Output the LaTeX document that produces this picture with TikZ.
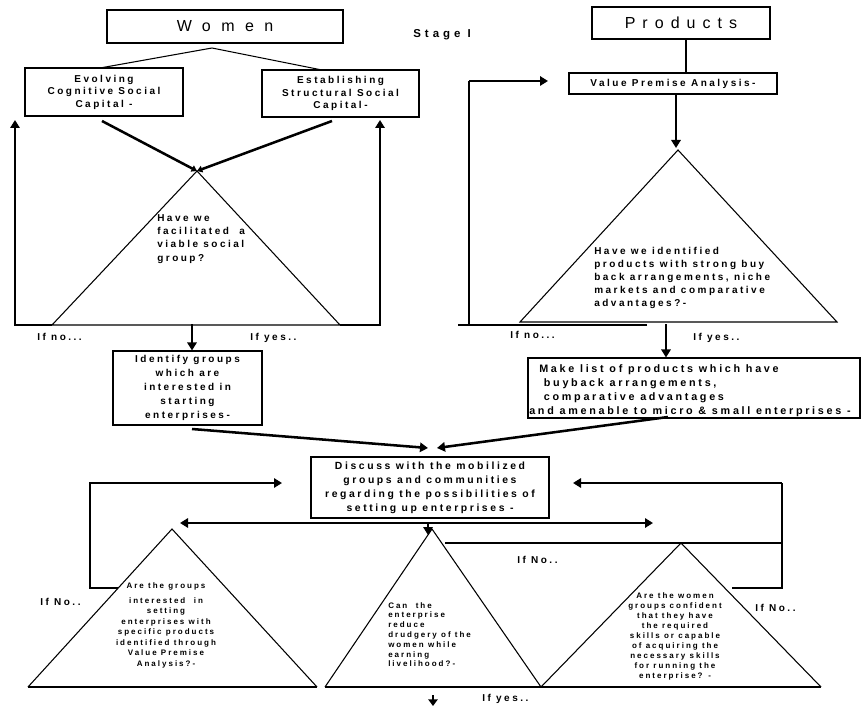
\documentclass[tikz,border=0pt]{standalone}
\usepackage{fontspec}
\setmainfont{Liberation Sans}
\newfontfamily\lsp[LetterSpace=25]{Liberation Sans}
\newfontfamily\lsps[LetterSpace=35]{Liberation Sans}
\newfontfamily\lspw[LetterSpace=65]{Liberation Sans}
\newfontfamily\lspp[LetterSpace=44]{Liberation Sans}
\usetikzlibrary{arrows.meta}
\begin{document}
\begin{tikzpicture}[x=0.75pt,y=-0.75pt,
  box/.style={draw, line width=0.8pt, inner sep=0pt, align=center},
  tx/.style={font=\lsp\bfseries\fontsize{7.5pt}{10.5pt}\selectfont, inner sep=0pt},
  sm/.style={inner sep=0pt},
  ln/.style={line width=0.8pt},
  hv/.style={line width=1.9pt},
  tip/.style={-{Triangle[length=6pt,width=7pt]}},
  tips/.style={{Triangle[length=6pt,width=7pt]}-{Triangle[length=6pt,width=7pt]}}
]
\useasboundingbox (0,0) rectangle (861,706);
\fill[white] (0,0) rectangle (861,706);

% ---------- boxes ----------
\node[box, minimum width=177pt, minimum height=24.75pt, font=\lspw\fontsize{12pt}{14pt}\selectfont] (women) at (225,26.5) {Women};
\node[box, tx, minimum width=118.5pt, minimum height=36pt, font=\lsp\bfseries\fontsize{7.5pt}{9.4pt}\selectfont] (evo) at (104,92) {Evolving\\Cognitive Social\\Capital -};
\node[box, tx, minimum width=117.75pt, minimum height=35.25pt, font=\lsp\bfseries\fontsize{7.5pt}{9.4pt}\selectfont] (est) at (340.5,93.5) {Establishing\\Structural Social\\Capital-};
\node[box, minimum width=133.5pt, minimum height=24pt, font=\lspp\fontsize{12pt}{14pt}\selectfont] (prod) at (681,23) {Products};
\node[box, tx, minimum width=156pt, minimum height=15.75pt] (vpa) at (673,83.5) {Value Premise Analysis-};
\node[box, tx, minimum width=111.75pt, minimum height=55.5pt] (ident) at (187.5,388) {Identify groups\\which are\\interested in\\starting\\enterprises-};
\node[box, minimum width=249pt, minimum height=45pt] (make) at (694,388) {};
\node[tx, anchor=north west, align=left, font=\lsp\bfseries\fontsize{8.1pt}{10.5pt}\selectfont] (maketext) at (529,364.5) {\hspace*{7.5pt}Make list of products which have\\\hspace*{11pt}buyback arrangements,\\\hspace*{11pt}comparative advantages\\and amenable to micro \& small enterprises -};
\node[box, tx, minimum width=178.5pt, minimum height=45.75pt, font=\lsp\bfseries\fontsize{7.8pt}{10.5pt}\selectfont] (disc) at (430,487.5) {Discuss with the mobilized\\groups and communities\\regarding the possibilities of\\setting up enterprises -};

\node[anchor=west, inner sep=0pt, font=\lsps\bfseries\fontsize{8.6pt}{10pt}\selectfont] (stage) at (413,35) {Stage I};

% ---------- triangles ----------
\coordinate (t1a) at (197,171); \coordinate (t1l) at (52,325); \coordinate (t1r) at (340,325);
\coordinate (t2a) at (678,150); \coordinate (t2l) at (520,322); \coordinate (t2r) at (837,322);
\coordinate (t3a) at (172,529); \coordinate (t3l) at (28,687);  \coordinate (t3r) at (317,687);
\coordinate (t4a) at (432,529); \coordinate (t4l) at (325,687); \coordinate (t4r) at (541,687);
\coordinate (t5a) at (681,543); \coordinate (t5l) at (541,687); \coordinate (t5r) at (821,687);
\draw[ln] (t1a) -- (t1l) -- (t1r) -- cycle;
\draw[ln] (t2a) -- (t2l) -- (t2r) -- cycle;
\draw[ln] (t3l) -- (t3a) -- (t3r);
\draw[ln] (t4l) -- (t4a) -- (t4r);
\draw[ln] (t5l) -- (t5a) -- (t5r);
\draw[line width=1.3pt] (t3l) -- (t3r);
\draw[line width=1.3pt] (t4l) -- (t5r);

% ---------- triangle texts ----------
\node[tx, anchor=north west, align=left, font=\lsp\bfseries\fontsize{7.5pt}{10pt}\selectfont] (q1) at (157,214) {Have we\\facilitated~~a\\viable social\\group?};
\node[tx, anchor=north west, align=left, font=\lsp\bfseries\fontsize{7.5pt}{9.75pt}\selectfont] (q2) at (594,247) {Have we identified\\products with strong buy\\back arrangements, niche\\markets and comparative\\advantages?-};
\node[sm, anchor=north, align=center, font=\lsp\bfseries\fontsize{6pt}{7.9pt}\selectfont] (q3) at (166,582) {Are the groups\\[3.4pt]interested~~in\\setting\\enterprises with\\specific products\\identified through\\Value Premise\\Analysis?-};
\node[sm, anchor=north west, align=left, font=\lsp\bfseries\fontsize{6pt}{7.35pt}\selectfont] (q4) at (388,602) {Can~~the\\enterprise\\reduce\\drudgery of the\\women while\\earning\\livelihood?-};
\node[sm, anchor=north, align=center, font=\lsp\bfseries\fontsize{6pt}{7.5pt}\selectfont] (q5) at (675,592) {Are the women\\groups confident\\that they have\\the required\\skills or capable\\of acquiring the\\necessary skills\\for running the\\enterprise? -};

% ---------- labels ----------
\node[tx, anchor=west] (ifno1) at (37,337) {If no...};
\node[tx, anchor=west] (ifyes1) at (250,338) {If yes..};
\node[tx, anchor=west] (ifno2) at (510,335) {If no...};
\node[tx, anchor=west] (ifyes2) at (693,338) {If yes..};
\node[tx, anchor=west] (ifno3) at (517,560) {If No..};
\node[tx, anchor=west] (ifno4) at (755,608) {If No..};
\node[tx, anchor=west] (ifno5) at (40,602) {If No..};
\node[tx, anchor=west] (ifyes3) at (482,699) {If yes..};

% ---------- connectors ----------
\coordinate (wb) at (212,48);
\coordinate (evin) at (100,68);
\coordinate (estin) at (322,70);
\draw[ln] (evin) -- (wb) -- (estin);
\coordinate (pb) at (686,39);
\coordinate (vt) at (686,73);
\draw[ln] (pb) -- (vt);

\coordinate (evout) at (102,121);
\coordinate (estout) at (332,121);
\draw[hv, -{Triangle[length=4pt,width=5pt]}] (evout) -- (t1a);
\draw[hv, -{Triangle[length=4pt,width=5pt]}] (estout) -- (t1a);

\coordinate (lf1) at (15,325); \coordinate (lf2) at (15,120);
\draw[hv, tip] (t1l) -- (lf1) -- (lf2);
\coordinate (rf1) at (380,325); \coordinate (rf2) at (380,120);
\draw[hv, tip] (t1r) -- (rf1) -- (rf2);

\coordinate (y1a) at (192,324);
\draw[hv, tip] (y1a) -- (ident.north -| y1a);

\coordinate (vb) at (676,94); \coordinate (vb2) at (676,148);
\draw[hv, tip] (vb) -- (vb2);

\coordinate (pl1) at (647,325); \coordinate (pl2) at (458,325);
\draw[ln] (pl1) -- (pl2);
\coordinate (pv1) at (469,325); \coordinate (pv2) at (469,81); \coordinate (pv3) at (548,81);
\draw[line width=1.3pt] (pv1) -- (pv2);
\draw[hv, tip] (pv2) -- (pv3);

\coordinate (y2a) at (666,324);
\draw[hv, tip] (y2a) -- (make.north -| y2a);

\coordinate (ib) at (192,429); \coordinate (di1) at (428,448);
\draw[hv, tip] (ib) -- (di1);
\coordinate (mb) at (668,417); \coordinate (di2) at (437,448);
\draw[hv, tip] (mb) -- (di2);

\coordinate (da1) at (180,523); \coordinate (da2) at (653,523);
\draw[hv, tips] (da1) -- (da2);
\coordinate (dd1) at (428,523); \coordinate (dd2) at (428,535);
\draw[hv, tip] (dd1) -- (dd2);

% left loop
\coordinate (ll1) at (118,588); \coordinate (ll2) at (90,588); \coordinate (ll3) at (90,483);
\coordinate (ll4) at (113,483); \coordinate (ll5) at (282,483);
\draw[ln] (ll1) -- (ll2) -- (ll3) -- (ll4);
\draw[hv, tip] (ll4) -- (ll5);

% right loop
\coordinate (rl1) at (732,588); \coordinate (rl2) at (782,588); \coordinate (rl3) at (782,483);
\coordinate (rl4) at (573,483); \coordinate (rl5) at (445,543); \coordinate (rl6) at (782,543);
\draw[line width=1.2pt] (rl1) -- (rl2) -- (rl3);
\draw[ln] (rl5) -- (rl6);
\draw[hv, tip] (rl3) -- (rl4);

% bottom arrow
\coordinate (ba1) at (433,695); \coordinate (ba2) at (433,706);
\draw[hv, -{Triangle[length=5pt,width=7pt]}] (ba1) -- (ba2);
\end{tikzpicture}
\end{document}
